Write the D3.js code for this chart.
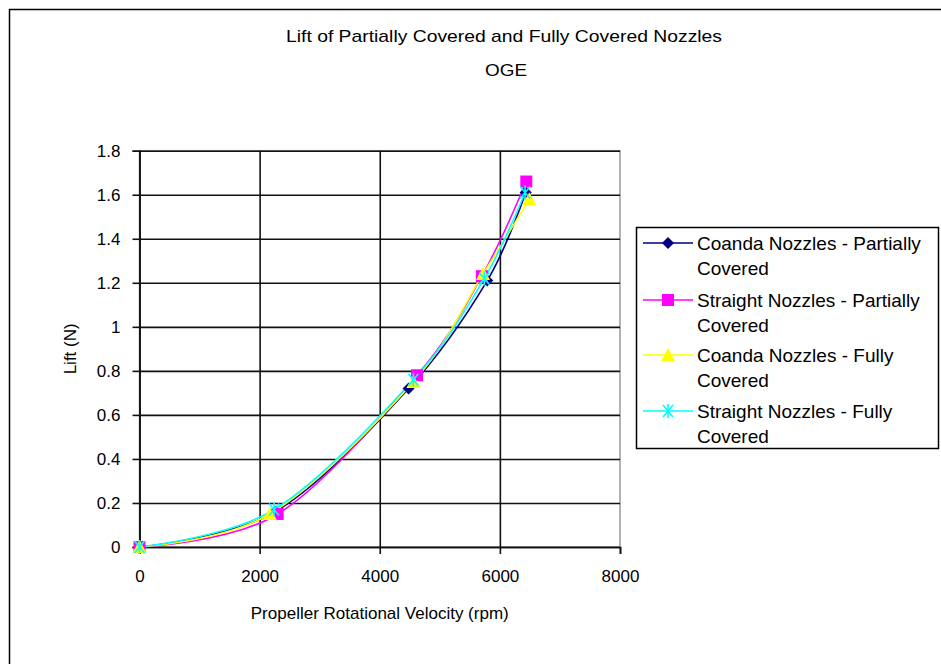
<html><head>
<title>Lift of Partially Covered and Fully Covered Nozzles</title>
<script src="https://d3js.org/d3.v7.min.js"></script>
<style>
  body { margin: 0; background: white; }
  text { font-family: 'Liberation Sans', Arial, sans-serif; fill: black; }
  .tick-label { font-size: 17px; }
  .legend { font-size: 19px; }
  .title { font-size: 17px; }
  .axis-title { font-size: 17px; }
</style>
</head>
<body>
<svg id="chart" width="941" height="664"></svg>
<script>

// data
const seriesNames = ["Coanda Nozzles - Partially Covered", "Straight Nozzles - Partially Covered",
                     "Coanda Nozzles - Fully Covered", "Straight Nozzles - Fully Covered"];
const rpmCoandaPartial   = [0, 2260, 4480, 5790, 6430];
const liftCoandaPartial  = [0, 0.16, 0.72, 1.21, 1.61];
const rpmStraightPartial = [0, 2300, 4620, 5700, 6440];
const liftStraightPartial= [0, 0.15, 0.78, 1.23, 1.66];
const rpmCoandaFully     = [0, 2170, 4560, 5720, 6490];
const liftCoandaFully    = [0, 0.15, 0.75, 1.24, 1.58];
const rpmStraightFully   = [0, 2240, 4560, 5740, 6420];
const liftStraightFully  = [0, 0.17, 0.76, 1.22, 1.61];
const xTicks = [0, 2000, 4000, 6000, 8000];
const yTicks = [0, 0.2, 0.4, 0.6, 0.8, 1, 1.2, 1.4, 1.6, 1.8];

const svg = d3.select("#chart");
const plot = {left: 139.5, right: 620, top: 150.7, bottom: 547};

// chart area frame (runs off the right / bottom edge)
svg.append("rect")
   .attr("x", 9.5).attr("y", 9.5)
   .attr("width", 1000).attr("height", 700)
   .attr("fill", "white").attr("stroke", "black").attr("stroke-width", 1.5);

const xScale = d3.scaleLinear().domain([0, 8000]).range([plot.left, plot.right]);
const yScale = d3.scaleLinear().domain([0, 1.8]).range([plot.bottom, plot.top]);

// plot border (grey top/right)
svg.append("rect")
   .attr("x", plot.left).attr("y", plot.top)
   .attr("width", plot.right - plot.left).attr("height", plot.bottom - plot.top)
   .attr("fill", "white").attr("stroke", "#9a9a9a").attr("stroke-width", 1.5);

// horizontal gridlines + y axis
let leftGridlines = d3.axisLeft(yScale).tickValues(yTicks).tickSize(-(plot.right - plot.left)).tickFormat('');
svg.append('g')
   .attr('class', 'gridlines')
   .attr('transform', `translate(${plot.left},0)`)
   .call(leftGridlines)
   .call(g => g.select('.domain').remove())
   .call(g => g.selectAll('line').attr('stroke', '#111').attr('stroke-width', 1.6));

let leftAxis = d3.axisLeft(yScale).tickValues(yTicks).tickSize(7).tickPadding(12).tickFormat(d3.format("~g"));
svg.append('g')
   .attr('class', 'y axis')
   .attr('transform', `translate(${plot.left},0)`)
   .call(leftAxis)
   .call(g => g.select('.domain').attr('stroke', '#111').attr('stroke-width', 1.6))
   .call(g => g.selectAll('line').attr('stroke', '#111').attr('stroke-width', 1.6))
   .call(g => g.selectAll('text').attr('class', 'tick-label').attr('font-family', null).attr('font-size', null));

// vertical gridlines + x axis
let bottomGridlines = d3.axisBottom(xScale).tickValues(xTicks).tickSize(-(plot.bottom - plot.top)).tickFormat('');
svg.append('g')
   .attr('class', 'gridlines')
   .attr('transform', `translate(0,${plot.bottom})`)
   .call(bottomGridlines)
   .call(g => g.select('.domain').remove())
   .call(g => g.selectAll('.tick').filter(d => d === 8000).remove())
   .call(g => g.selectAll('line').attr('stroke', '#111').attr('stroke-width', 1.6));

let bottomAxis = d3.axisBottom(xScale).tickValues(xTicks).tickSize(7).tickPadding(16).tickFormat(d3.format("d"));
svg.append('g')
   .attr('class', 'x axis')
   .attr('transform', `translate(0,${plot.bottom})`)
   .call(bottomAxis)
   .call(g => g.select('.domain').attr('stroke', '#111').attr('stroke-width', 1.6))
   .call(g => g.selectAll('line').attr('stroke', '#111').attr('stroke-width', 1.6))
   .call(g => g.selectAll('text').attr('class', 'tick-label').attr('font-family', null).attr('font-size', null));

// series
const series = [
  {name: seriesNames[0], rpm: rpmCoandaPartial,   lift: liftCoandaPartial,   color: "#000080", marker: "diamond"},
  {name: seriesNames[1], rpm: rpmStraightPartial, lift: liftStraightPartial, color: "#FF00FF", marker: "square"},
  {name: seriesNames[2], rpm: rpmCoandaFully,     lift: liftCoandaFully,     color: "#FFFF00", marker: "triangle"},
  {name: seriesNames[3], rpm: rpmStraightFully,   lift: liftStraightFully,   color: "#00FFFF", marker: "star"}
];

const line = d3.line()
   .x(d => xScale(d[0]))
   .y(d => yScale(d[1]))
   .curve(d3.curveCardinal.tension(0));

function drawMarker(g, type, color) {
  if (type === "diamond") {
    g.append("path").attr("d", "M0,-6L6,0L0,6L-6,0Z").attr("fill", color);
  } else if (type === "square") {
    g.append("rect").attr("x", -6).attr("y", -6).attr("width", 12).attr("height", 12).attr("fill", color);
  } else if (type === "triangle") {
    g.append("path").attr("d", "M0,-7L7,6L-7,6Z").attr("fill", color);
  } else {
    g.append("path").attr("d", "M-5,-6L5,6M-5,6L5,-6M0,-7L0,7")
     .attr("stroke", color).attr("stroke-width", 1.6).attr("fill", "none");
  }
}

series.forEach(s => {
  const pts = s.rpm.map((r, i) => [r, s.lift[i]]);
  svg.append("path")
     .attr("d", line(pts))
     .attr("fill", "none")
     .attr("stroke", s.color)
     .attr("stroke-width", 1.6);
});
series.forEach(s => {
  s.rpm.forEach((r, i) => {
    const g = svg.append("g").attr("transform", `translate(${xScale(r)},${yScale(s.lift[i])})`);
    drawMarker(g, s.marker, s.color);
  });
});

// legend
svg.append("rect")
   .attr("x", 636.5).attr("y", 227.5).attr("width", 302).attr("height", 221)
   .attr("fill", "white").attr("stroke", "black").attr("stroke-width", 1.5);

const legendRows = [243, 300, 355, 411];
series.forEach((s, i) => {
  const y = legendRows[i];
  svg.append("line")
     .attr("x1", 643).attr("x2", 693).attr("y1", y).attr("y2", y)
     .attr("stroke", s.color).attr("stroke-width", 1.6);
  const g = svg.append("g").attr("transform", `translate(668,${y})`);
  drawMarker(g, s.marker, s.color);
  const words = s.name.split(" Covered")[0];
  svg.append("text").attr("class", "legend")
     .attr("x", 697).attr("y", y).attr("dy", "0.35em")
     .text(words);
  svg.append("text").attr("class", "legend")
     .attr("x", 697).attr("y", y + 25).attr("dy", "0.35em")
     .text("Covered");
});

// titles
svg.append("text").attr("class", "title")
   .attr("x", 504).attr("y", 42).attr("text-anchor", "middle")
   .attr("textLength", 436).attr("lengthAdjust", "spacingAndGlyphs")
   .text("Lift of Partially Covered and Fully Covered Nozzles");
svg.append("text").attr("class", "title")
   .attr("x", 506).attr("y", 76).attr("text-anchor", "middle")
   .attr("textLength", 42).attr("lengthAdjust", "spacingAndGlyphs")
   .text("OGE");

svg.append("text").attr("class", "axis-title")
   .attr("x", (plot.left + plot.right) / 2).attr("y", 619).attr("text-anchor", "middle")
   .text("Propeller Rotational Velocity (rpm)");

svg.append("text").attr("class", "axis-title")
   .attr("text-anchor", "middle")
   .attr("transform", `translate(76,${(plot.top + plot.bottom) / 2})rotate(-90)`)
   .text("Lift (N)");

</script>
</body>
</html>
